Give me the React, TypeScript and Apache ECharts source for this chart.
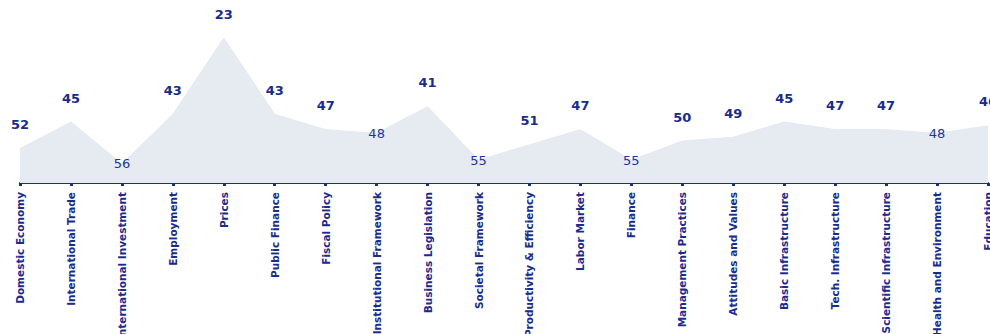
import React, { useEffect, useRef } from "react";
import * as echarts from "echarts";

const categories = [
  "Domestic Economy",
  "International Trade",
  "International Investment",
  "Employment",
  "Prices",
  "Public Finance",
  "Fiscal Policy",
  "Institutional Framework",
  "Business Legislation",
  "Societal Framework",
  "Productivity & Efficiency",
  "Labor Market",
  "Finance",
  "Management Practices",
  "Attitudes and Values",
  "Basic Infrastructure",
  "Tech. Infrastructure",
  "Scientific Infrastructure",
  "Health and Environment",
  "Education",
];

const ranks = [52, 45, 56, 43, 23, 43, 47, 48, 41, 55, 51, 47, 55, 50, 49, 45, 47, 47, 48, 46];

// points whose label sits on the point (local minima of the curve)
const insideLabelIdx = [2, 7, 9, 12, 18];

const NAVY = "#1a2b8c";

export default function App() {
  const ref = useRef<HTMLDivElement>(null);
  useEffect(() => {
    if (!ref.current) return;
    const chart = echarts.init(ref.current, null, { renderer: "svg" });
    const data = ranks.map((v, i) =>
      insideLabelIdx.includes(i)
        ? {
            value: v,
            label: {
              position: "inside",
              fontWeight: "normal",
              color: "#22349a",
              distance: 0,
            },
          }
        : { value: v }
    );
    chart.setOption({
      animation: false,
      grid: {
        left: 20,
        right: 2,
        top: 0,
        bottom: 151,
        containLabel: false,
        outerBoundsMode: "none",
      },
      xAxis: {
        type: "category",
        data: categories,
        boundaryGap: false,
        axisLine: { lineStyle: { color: NAVY, width: 2 } },
        axisTick: { alignWithLabel: true, length: 3, lineStyle: { color: NAVY, width: 3 } },
        axisLabel: {
          interval: 0,
          rotate: 90,
          color: NAVY,
          fontFamily: "DejaVu Sans",
          fontWeight: "bold",
          fontSize: 10.5,
          margin: 9,
        },
      },
      yAxis: {
        type: "value",
        inverse: true,
        min: 13,
        max: 61,
        show: false,
        splitLine: { show: false },
      },
      series: [
        {
          type: "line",
          data,
          symbol: "circle",
          symbolSize: 1,
          showSymbol: true,
          itemStyle: { color: "rgba(0,0,0,0)" },
          lineStyle: { width: 1, color: "#e3e8f0" },
          areaStyle: { color: "#e6ebf2", opacity: 1, origin: "end" },
          label: {
            show: true,
            position: "top",
            distance: 17,
            color: NAVY,
            fontFamily: "DejaVu Sans",
            fontWeight: "bold",
            fontSize: 13,
          },
          labelLayout: { hideOverlap: false },
        },
      ],
    });
    return () => chart.dispose();
  }, []);
  return (
    <div
      ref={ref}
      style={{ position: "absolute", left: 0, top: 0, width: 990, height: 334 }}
    />
  );
}
